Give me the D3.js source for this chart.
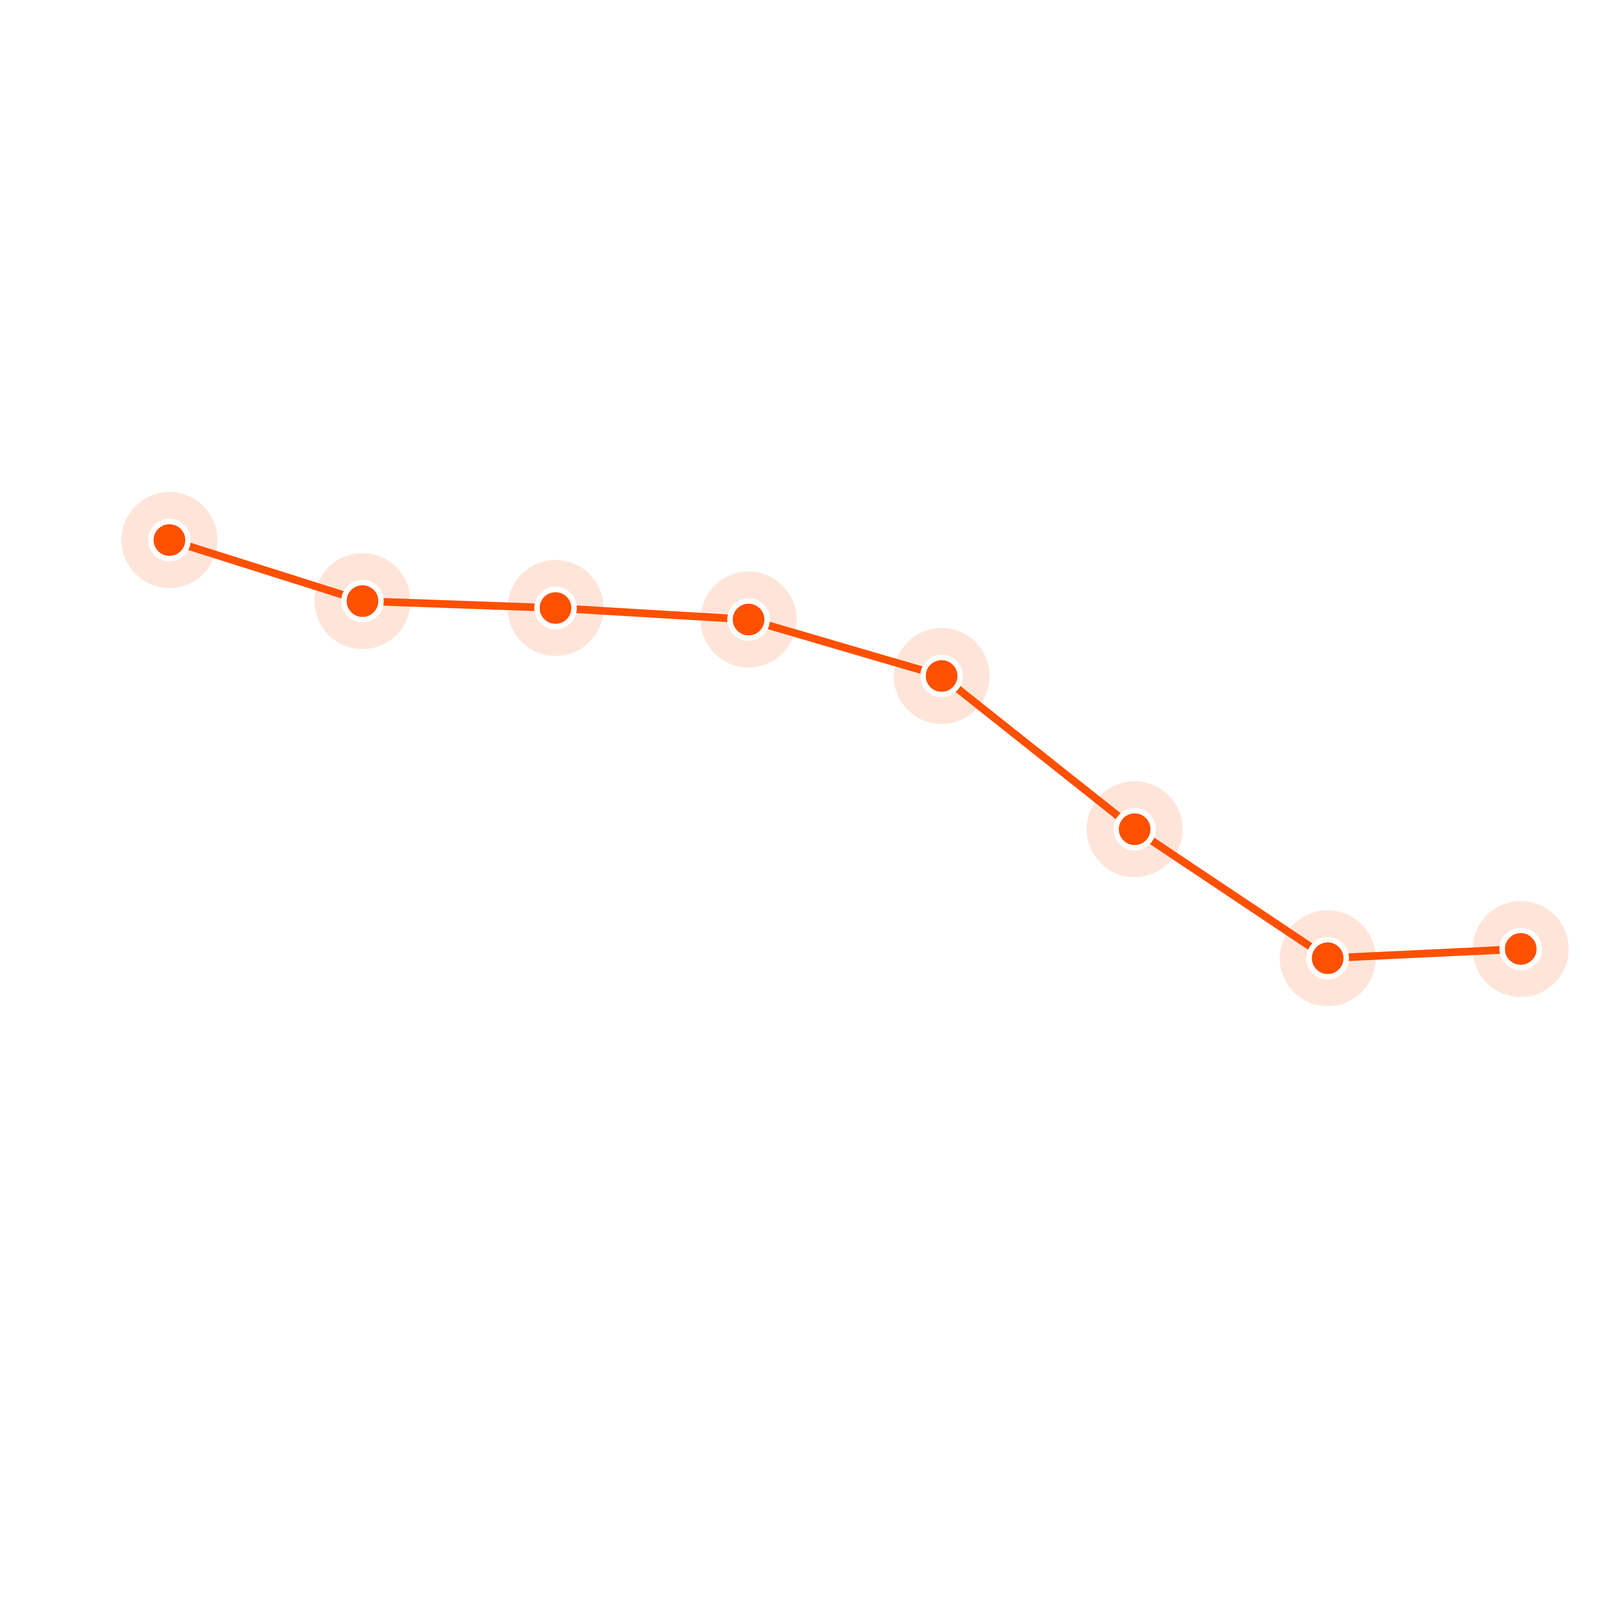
<!DOCTYPE html>
<html>
<head>
<meta charset="utf-8">
<script src="https://cdn.jsdelivr.net/npm/d3@7"></script>
<style>
  html, body { margin: 0; padding: 0; background: #fff; overflow: hidden; }
  svg { display: block; width: 100vw; height: 100vh; }
</style>
</head>
<body>
<div id="chart"></div>
<script>
// categories along the x axis (no labels drawn in the original)
const categories = ["1", "2", "3", "4", "5", "6", "7", "8"];
// series values
const values = [70.9, 65.6, 65.0, 64.0, 59.1, 45.8, 34.6, 35.4];

const width = 5000;
const height = 4120;
const color = "#FF5000";

const svg = d3.select("#chart")
    .append("svg")
    .attr("viewBox", `0 0 ${width} ${height}`)
    .attr("preserveAspectRatio", "xMidYMid meet");

const x = d3.scalePoint()
    .domain(categories)
    .range([529.5, 4752.3]);

const y = d3.scaleLinear()
    .domain([0, 100])
    .range([3800, 200]);

const data = categories.map((c, i) => ({ cat: c, value: values[i] }));

// soft halo behind each point
svg.append("g")
    .selectAll("circle")
    .data(data)
    .join("circle")
    .attr("cx", d => x(d.cat))
    .attr("cy", d => y(d.value))
    .attr("r", 150)
    .attr("fill", color)
    .attr("fill-opacity", 0.15);

const line = d3.line()
    .x(d => x(d.cat))
    .y(d => y(d.value));

svg.append("path")
    .datum(data)
    .attr("d", line)
    .attr("fill", "none")
    .attr("stroke", color)
    .attr("stroke-width", 24);

svg.append("g")
    .selectAll("circle")
    .data(data)
    .join("circle")
    .attr("cx", d => x(d.cat))
    .attr("cy", d => y(d.value))
    .attr("r", 58)
    .attr("fill", color)
    .attr("stroke", "#fff")
    .attr("stroke-width", 17);
</script>
</body>
</html>
